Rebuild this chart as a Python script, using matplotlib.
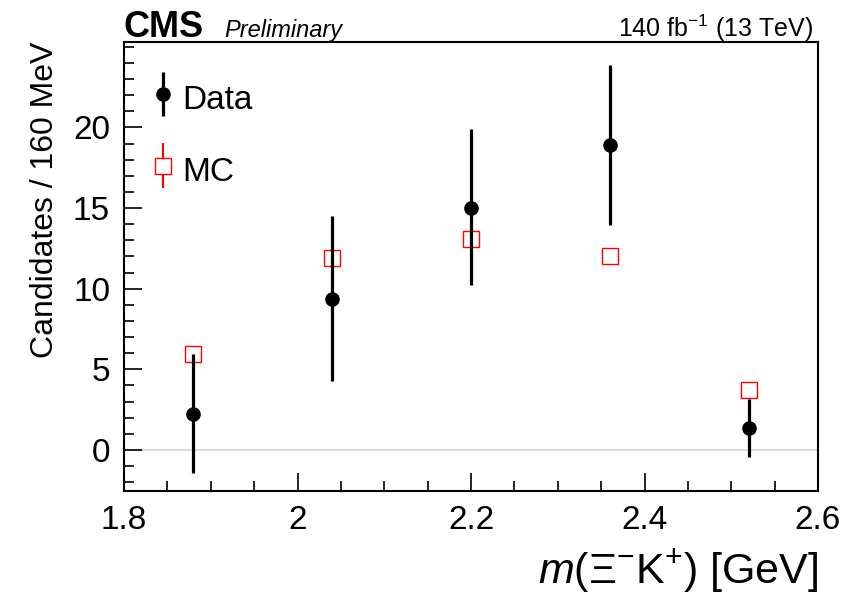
import matplotlib
matplotlib.use("Agg")
import matplotlib.pyplot as plt
from matplotlib.ticker import MultipleLocator
from matplotlib.legend_handler import HandlerErrorbar

plt.rcParams['font.family'] = ['Liberation Sans', 'DejaVu Sans']
plt.rcParams['mathtext.fontset'] = 'custom'
plt.rcParams['mathtext.rm'] = 'Liberation Sans'
plt.rcParams['mathtext.it'] = 'Liberation Sans:italic'
plt.rcParams['mathtext.bf'] = 'Liberation Sans:bold'

# bin centres [GeV]
mass = [1.88, 2.04, 2.20, 2.36, 2.52]
# data
data = [2.2, 9.35, 15.0, 18.9, 1.35]
data_err_lo = [3.65, 5.1, 4.75, 4.95, 1.8]
data_err_hi = [3.75, 5.15, 4.9, 4.95, 1.8]
# simulation
mc = [5.95, 11.9, 13.05, 12.0, 3.7]
mc_err = [0, 0, 0, 0, 0]

fig = plt.figure(figsize=(8.44, 5.96), dpi=100)
ax = fig.add_axes([124 / 844, 1 - 491 / 596, 694 / 844, 449 / 596])

ax.axhline(0, color='#d3d3d3', lw=1.2, zorder=1)

mc_h = ax.errorbar(mass, mc, yerr=mc_err, fmt='s', color='red', ms=11.5,
                   mfc='white', mec='red', mew=1.0, elinewidth=1.5, zorder=2)
data_h = ax.errorbar(mass, data, yerr=[data_err_lo, data_err_hi], fmt='o',
                     color='black', ms=9.5, elinewidth=2.3, zorder=3)

ax.set_xlim(1.8, 2.6)
ax.set_ylim(-2.55, 25.3)
ax.set_xticks([1.8, 2.0, 2.2, 2.4, 2.6], ['1.8', '2', '2.2', '2.4', '2.6'])
ax.xaxis.set_minor_locator(MultipleLocator(0.05))
ax.set_yticks([0, 5, 10, 15, 20])
ax.yaxis.set_minor_locator(MultipleLocator(1))
ax.tick_params(which='both', direction='in', top=False, right=False,
               labelsize=24, width=1.2)
ax.tick_params(which='major', length=13, pad=10)
ax.tick_params(which='minor', length=7)
for sp in ax.spines.values():
    sp.set_linewidth(1.5)

ax.set_xlabel(r'$m$($\Xi^{-}$K$^{+}$) [GeV]', fontsize=31, loc='right', labelpad=8)
ax.set_ylabel('Candidates / 160 MeV', fontsize=23, loc='top', labelpad=9)

leg = ax.legend([data_h, mc_h], ['Data', 'MC'], loc='upper left',
                bbox_to_anchor=(-0.0085, 0.985), frameon=False, fontsize=24,
                handlelength=0.9, handleheight=1.4, labelspacing=1.0,
                handletextpad=0.12, borderaxespad=0.5,
                handler_map={type(data_h): HandlerErrorbar(yerr_size=0.67)})

fig.text(124 / 844, 1 - 37 / 596, 'CMS', fontsize=26, fontweight='bold',
         ha='left', va='baseline')
fig.text(224 / 844, 1 - 37 / 596, 'Preliminary', fontsize=17, style='italic',
         ha='left', va='baseline')
fig.text(813 / 844, 1 - 37 / 596, r'140 fb$^{-1}$ (13 TeV)', fontsize=18,
         ha='right', va='baseline')

fig.savefig('out.png', dpi=100)
